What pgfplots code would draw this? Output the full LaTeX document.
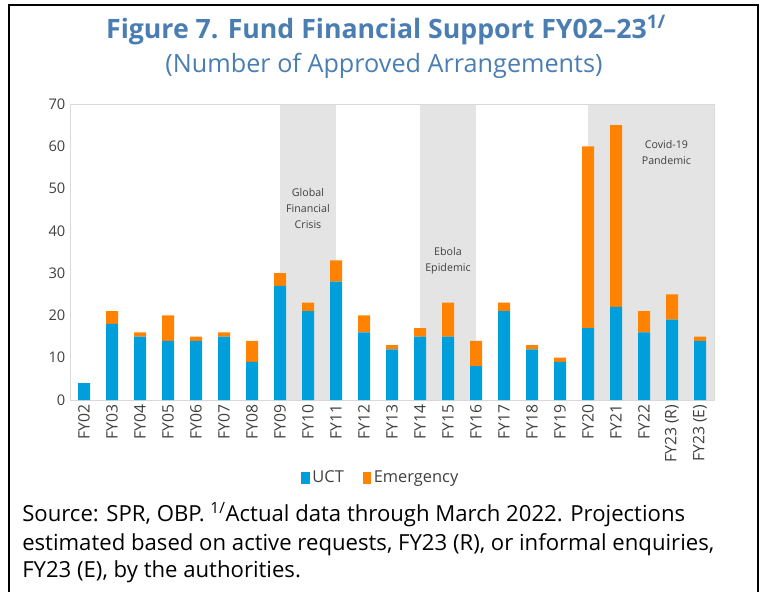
\documentclass[border=0pt]{standalone}
\usepackage{fontspec}
\setmainfont{Open Sans}
\usepackage{pgfplots}
\pgfplotsset{compat=1.18}
\usepackage{pgfplotstable}
\definecolor{uct}{RGB}{0,158,219}
\definecolor{emer}{RGB}{255,130,0}
\definecolor{titleblue}{RGB}{74,126,178}
\definecolor{bandgray}{RGB}{228,228,228}
\definecolor{txt}{RGB}{64,64,64}
\definecolor{axisgray}{RGB}{217,217,217}
\pgfplotstableread{
x uct emer
0 4 0
1 18 3
2 15 1
3 14 6
4 14 1
5 15 1
6 9 5
7 27 3
8 21 2
9 28 5
10 16 4
11 12 1
12 15 2
13 15 8
14 8 6
15 21 2
16 12 1
17 9 1
18 17 43
19 22 43
20 16 5
21 19 6
22 14 1
}\datatable
\pgfplotsset{commonax/.style={at={(52.5pt,144pt)}, anchor=south west,
  scale only axis, width=483pt, height=222pt,
  xmin=-0.5, xmax=22.5, ymin=0, ymax=70}}
\begin{document}
\begin{tikzpicture}
\path[use as bounding box] (0pt,0pt) rectangle (569.25pt,444pt);
\draw[line width=1.5pt] (6.75pt,0pt) -- (6.75pt,440.25pt) -- (568.5pt,440.25pt) -- (568.5pt,0pt);
\node[font=\bfseries\fontsize{20}{24}\selectfont, text=titleblue] at (289.5pt,421.5pt) {Figure 7. Fund Financial Support FY02--23\textsuperscript{1/}};
\node[font=\fontsize{18.9}{22}\selectfont, text=titleblue] at (288pt,394.5pt) {(Number of Approved Arrangements)};
\node[anchor=base west, font=\fontsize{16.6}{20}\selectfont, inner sep=0pt] at (16.5pt,52.5pt) {Source: SPR, OBP. \textsuperscript{1/}Actual data through March 2022. Projections};
\node[anchor=base west, font=\fontsize{16.6}{20}\selectfont, inner sep=0pt] at (16.5pt,31.5pt) {estimated based on active requests, FY23 (R), or informal enquiries,};
\node[anchor=base west, font=\fontsize{16.6}{20}\selectfont, inner sep=0pt] at (16.5pt,11.25pt) {FY23 (E), by the authorities.};
\begin{axis}[commonax, hide axis]
\fill[bandgray] (axis cs:7,0) rectangle (axis cs:9,70);
\fill[bandgray] (axis cs:12,0) rectangle (axis cs:14,70);
\fill[bandgray] (axis cs:18,0) rectangle (axis cs:22.5,70);
\end{axis}
\begin{axis}[
  commonax,
  ybar stacked, bar width=9pt,
  ytick={0,10,...,70},
  xtick={0,...,22},
  xticklabels={FY02,FY03,FY04,FY05,FY06,FY07,FY08,FY09,FY10,FY11,FY12,FY13,FY14,FY15,FY16,FY17,FY18,FY19,FY20,FY21,FY22,FY23 (R),FY23 (E)},
  x tick label style={rotate=90, anchor=east, font=\fontsize{11.8}{14}\selectfont, text=txt},
  y tick label style={font=\fontsize{11}{13}\selectfont, text=txt},
  /pgf/number format/assume math mode=true,
  major tick length=0pt,
  axis line style={axisgray},
  legend style={at={(0.483,-0.2635)}, anchor=center, legend columns=2, draw=none, fill=none, font=\fontsize{12.3}{14}\selectfont, text=txt, /tikz/every even column/.append style={column sep=12pt}},
  legend image code/.code={\fill[#1] (0pt,-4.5pt) rectangle (6.5pt,4.5pt);},
]
\addplot[fill=uct, draw=none] table[x=x, y=uct] {\datatable};
\addplot[fill=emer, draw=none] table[x=x, y=emer] {\datatable};
\legend{UCT, Emergency}
\node[align=center, font=\fontsize{8}{12}\selectfont, text=txt] at (axis cs:8,45.2) {Global\\Financial\\Crisis};
\node[align=center, font=\fontsize{8}{12}\selectfont, text=txt] at (axis cs:13,32.9) {Ebola\\Epidemic};
\node[align=center, font=\fontsize{8}{12}\selectfont, text=txt] at (axis cs:20.8,58.6) {Covid-19\\Pandemic};
\end{axis}
\end{tikzpicture}
\end{document}
